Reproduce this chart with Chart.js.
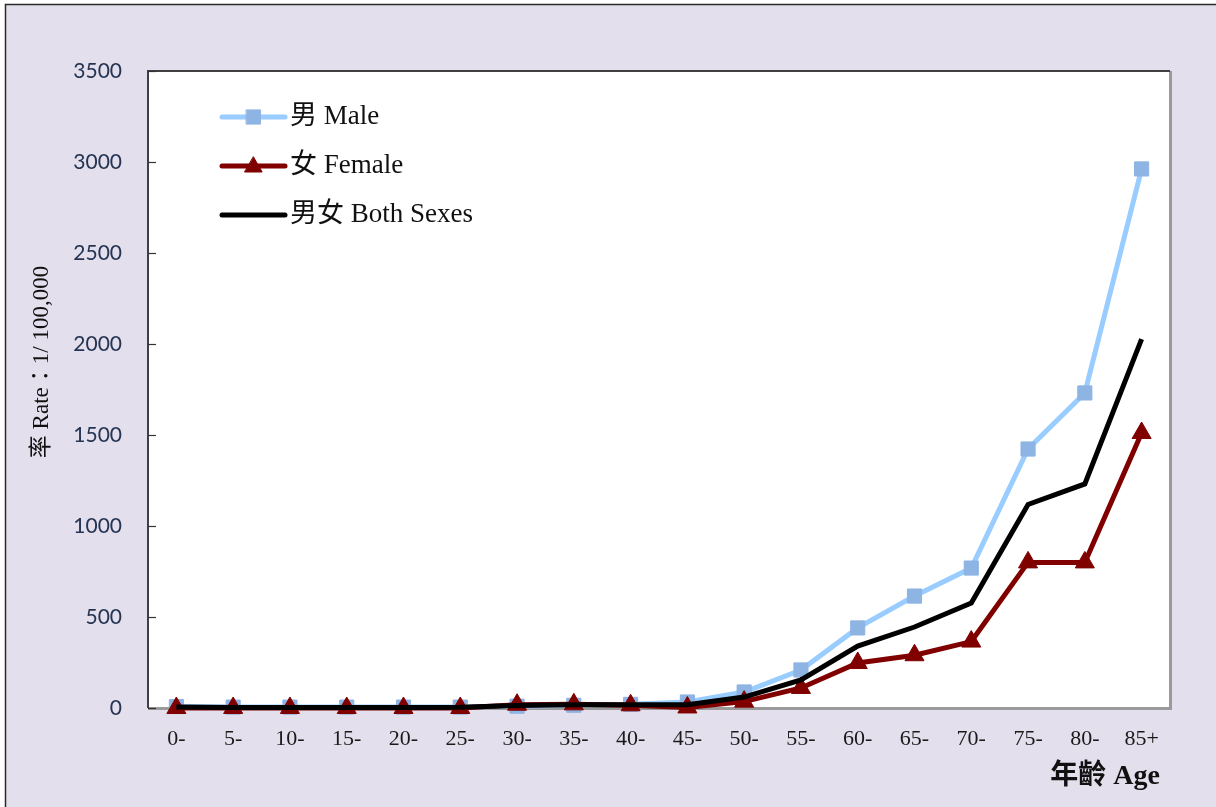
<!DOCTYPE html>
<html>
<head>
<meta charset="utf-8">
<script src="https://cdn.jsdelivr.net/npm/chart.js@4/dist/chart.umd.min.js"></script>
<style>
  html, body { margin: 0; padding: 0; background: #ffffff; }
  #wrap { width: 1216px; height: 807px; position: relative; }
  canvas { display: block; }
</style>
</head>
<body>
<div id="wrap"><canvas id="c" width="1216" height="807"></canvas></div>
<script>
// Age groups (5-year bands)
const ageGroups = ['0-', '5-', '10-', '15-', '20-', '25-', '30-', '35-', '40-', '45-',
                   '50-', '55-', '60-', '65-', '70-', '75-', '80-', '85+'];

// Rates per 100,000
const maleRates   = [8, 5, 5, 5, 5, 5, 10, 15, 20, 33, 88, 209, 440, 615, 769, 1423, 1731, 2962];
const femaleRates = [0, 0, 0, 0, 0, 0, 18, 20, 15, 3, 35, 110, 247, 290, 365, 800, 800, 1511];
const bothRates   = [5, 3, 3, 3, 3, 4, 14, 18, 18, 18, 60, 154, 340, 445, 577, 1118, 1231, 2027];

const yTicks = [0, 500, 1000, 1500, 2000, 2500, 3000, 3500];

const seriesLabels = ['男 Male', '女 Female', '男女 Both Sexes'];
const yTitle = '率 Rate：1/ 100,000';
const xTitle = '年齡 Age';

const SERIF = '"Liberation Serif", "Times New Roman", "Noto Sans CJK TC", serif';

// Page frame, white plot area, plot border and inward tick marks
const framePlugin = {
  id: 'frame',
  beforeDraw(chart) {
    const ctx = chart.ctx;
    const a = chart.chartArea;
    ctx.save();
    ctx.fillStyle = '#ffffff';
    ctx.fillRect(0, 0, chart.width, chart.height);
    ctx.fillStyle = '#e4dfec';
    ctx.fillRect(5, 4, chart.width, chart.height);
    ctx.strokeStyle = '#2a2a2a';
    ctx.lineWidth = 1.5;
    ctx.beginPath();
    ctx.moveTo(5.5, chart.height);
    ctx.lineTo(5.5, 4.5);
    ctx.lineTo(chart.width, 4.5);
    ctx.stroke();
    ctx.fillStyle = '#ffffff';
    ctx.fillRect(a.left, a.top, a.right - a.left, a.bottom - a.top);
    ctx.restore();
  },
  beforeDatasetsDraw(chart) {
    const ctx = chart.ctx;
    const a = chart.chartArea;
    const ys = chart.scales.y;
    ctx.save();
    // right and bottom edges, lighter and heavier
    ctx.strokeStyle = '#9a9a9a';
    ctx.lineWidth = 3;
    ctx.beginPath();
    ctx.moveTo(a.left, a.bottom + 0.5);
    ctx.lineTo(a.right + 0.5, a.bottom + 0.5);
    ctx.lineTo(a.right + 0.5, a.top);
    ctx.stroke();
    // left and top edges
    ctx.strokeStyle = '#404040';
    ctx.lineWidth = 2;
    ctx.beginPath();
    ctx.moveTo(a.left, a.bottom);
    ctx.lineTo(a.left, a.top);
    ctx.lineTo(a.right, a.top);
    ctx.stroke();
    // short tick marks pointing into the plot
    ctx.lineWidth = 1.2;
    ctx.strokeStyle = '#333333';
    ys.ticks.forEach(t => {
      const py = Math.round(ys.getPixelForValue(t.value)) + 0.5;
      ctx.beginPath();
      ctx.moveTo(a.left, py);
      ctx.lineTo(a.left + 8, py);
      ctx.stroke();
    });
    ctx.restore();
  },
  afterDraw(chart) {
    const ctx = chart.ctx;
    ctx.save();
    // axis titles
    ctx.fillStyle = '#111111';
    ctx.font = 'bold 28px ' + SERIF;
    ctx.textAlign = 'right';
    ctx.textBaseline = 'middle';
    ctx.fillText(xTitle, 1160, 777);

    ctx.translate(42, 362);
    ctx.rotate(-Math.PI / 2);
    ctx.font = '23px ' + SERIF;
    ctx.textAlign = 'center';
    ctx.fillText(yTitle, 0, 0);
    ctx.restore();
  }
};

// Legend drawn inside the plot area, top-left
const innerLegend = {
  id: 'innerLegend',
  afterDatasetsDraw(chart) {
    const ctx = chart.ctx;
    const x0 = 222, x1 = 285, y0 = 117, dy = 49;
    ctx.save();
    chart.data.datasets.forEach((ds, i) => {
      const y = y0 + i * dy;
      ctx.strokeStyle = ds.borderColor;
      ctx.lineWidth = ds.borderWidth;
      ctx.lineCap = 'round';
      ctx.beginPath();
      ctx.moveTo(x0, y);
      ctx.lineTo(x1, y);
      ctx.stroke();
      if (ds.pointRadius > 0) {
        ctx.fillStyle = ds.pointBackgroundColor;
        ctx.strokeStyle = ds.pointBorderColor;
        ctx.lineWidth = 1;
        const isTri = ds.pointStyle === 'triangle';
        Chart.helpers.drawPoint(ctx, {
          pointStyle: ds.pointStyle,
          rotation: 0,
          borderWidth: 1,
          radius: 10
        }, (x0 + x1) / 2, y + (isTri ? 1 : 0));
      }
      ctx.fillStyle = '#111111';
      ctx.font = '27px ' + SERIF;
      ctx.textAlign = 'left';
      ctx.textBaseline = 'middle';
      ctx.fillText(ds.label, x1 + 5, y);
    });
    ctx.restore();
  }
};

new Chart(document.getElementById('c'), {
  type: 'line',
  data: {
    labels: ageGroups,
    datasets: [
      {
        label: seriesLabels[0],
        data: maleRates,
        borderColor: '#99ccff',
        borderWidth: 5,
        pointStyle: 'rect',
        pointRadius: 10,
        pointBackgroundColor: '#8eb4e3',
        pointBorderColor: '#8eb4e3',
        pointBorderWidth: 1,
        tension: 0,
        clip: false,
        order: 3
      },
      {
        label: seriesLabels[1],
        data: femaleRates,
        borderColor: '#800000',
        borderWidth: 5,
        pointStyle: 'triangle',
        pointRadius: 11,
        pointBackgroundColor: '#800000',
        pointBorderColor: '#800000',
        pointBorderWidth: 1,
        tension: 0,
        clip: false,
        order: 2
      },
      {
        label: seriesLabels[2],
        data: bothRates,
        borderColor: '#000000',
        borderWidth: 5,
        pointRadius: 0,
        tension: 0,
        clip: false,
        order: 1
      }
    ]
  },
  plugins: [framePlugin, innerLegend],
  options: {
    responsive: false,
    animation: false,
    layout: { padding: { left: 0, top: 71, right: 46, bottom: 0 } },
    plugins: {
      legend: { display: false },
      tooltip: { enabled: false }
    },
    scales: {
      x: {
        type: 'category',
        offset: true,
        grid: { display: false, drawTicks: false },
        border: { display: false },
        ticks: {
          color: '#1a1a1a',
          font: { family: SERIF, size: 22 },
          padding: 18,
          maxRotation: 0,
          autoSkip: false
        },
        afterFit(s) { s.height = 99; }
      },
      y: {
        min: 0,
        max: 3500,
        afterBuildTicks(s) { s.ticks = yTicks.map(v => ({ value: v })); },
        grid: { display: false, drawTicks: false },
        border: { display: false },
        ticks: {
          color: '#243452',
          font: { family: 'Lato, "Liberation Sans", sans-serif', size: 21 },
          padding: 26,
          callback: (v) => String(v)
        },
        afterFit(s) { s.width = 148; }
      }
    }
  }
});
</script>
</body>
</html>
